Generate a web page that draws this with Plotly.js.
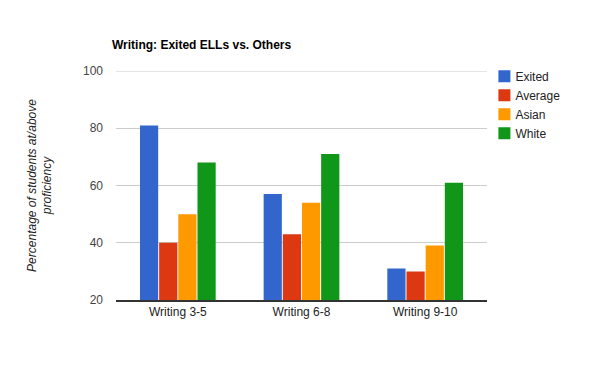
<!DOCTYPE html>
<html>
<head>
<meta charset="utf-8">
<script src="https://cdn.plot.ly/plotly-3.0.1.min.js"></script>
<style>html,body{margin:0;padding:0;background:#fff;}#chart{width:600px;height:371px;}</style>
</head>
<body>
<div id="chart"></div>
<script>
var categories = ["Writing 3-5", "Writing 6-8", "Writing 9-10"];
var seriesNames = ["Exited", "Average", "Asian", "White"];
var exited = [81, 57, 31];
var average = [40, 43, 30];
var asian = [50, 54, 39];
var white = [68, 71, 61];
var yTicks = [20, 40, 60, 80, 100];
var colors = ["#3366cc", "#dc3912", "#ff9900", "#109618"];

var values = [exited, average, asian, white];
var traces = values.map(function(v, i) {
  return {type: "bar", name: seriesNames[i], x: categories, y: v,
          marker: {color: colors[i]}, hoverinfo: "none"};
});

var yMax = yTicks[yTicks.length - 1];

var layout = {
  width: 600, height: 371,
  margin: {l: 116, r: 113, t: 71, b: 71},
  paper_bgcolor: "#fff", plot_bgcolor: "#fff",
  font: {family: "Arial, 'Liberation Sans', sans-serif", size: 12, color: "#222"},
  title: {text: "<b>Writing: Exited ELLs vs. Others</b>", x: 112/600, xanchor: "left", y: 1 - 45/371, yanchor: "middle",
          font: {size: 12, color: "#000"}},
  barmode: "group", bargap: 0.38, bargroupgap: 0.05,
  showlegend: true,
  legend: {x: 0.993, xanchor: "left", y: 1.04, yanchor: "top", xref: "paper", yref: "paper",
           font: {size: 12, color: "#222"}, tracegroupgap: 0, itemwidth: 30,
           bgcolor: "rgba(0,0,0,0)"},
  shapes: [{type: "line", xref: "paper", x0: 0, x1: 1, yref: "y", y0: yMax, y1: yMax,
            line: {color: "#ccc", width: 1}, layer: "below"}],
  xaxis: {type: "category", showgrid: false, showline: true, linecolor: "#333", linewidth: 1.5,
          ticks: "", tickfont: {size: 12, color: "#222"}, automargin: false, fixedrange: true},
  yaxis: {range: [20, 100], tickvals: yTicks, ticktext: yTicks.map(String), showgrid: true, gridcolor: "#ccc",
          zeroline: false, showline: false, ticks: "", tickfont: {size: 12, color: "#444"}, ticklabelstandoff: 12,
          automargin: false, fixedrange: true,
          title: {text: "<i>Percentage of students at/above<br>proficiency</i>", standoff: 28, font: {size: 12, color: "#222"}}}
};

Plotly.newPlot("chart", traces, layout, {displayModeBar: false, staticPlot: true}).then(function() {
  document.querySelectorAll("#chart .legendtext").forEach(function(t) {
    t.setAttribute("x", 31);
  });
});
</script>
</body>
</html>
